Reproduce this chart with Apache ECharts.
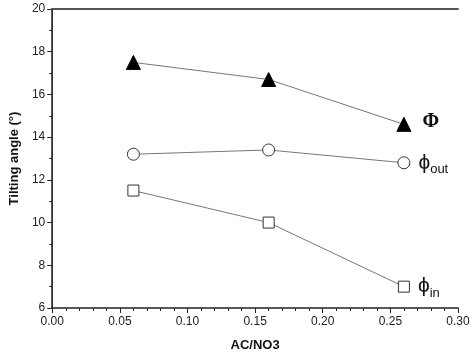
<!DOCTYPE html>
<html><head><meta charset="utf-8">
<script src="https://cdn.jsdelivr.net/npm/echarts@6/dist/echarts.min.js"></script>
<style>html,body{margin:0;padding:0;background:#fff}#c{width:474px;height:357px}</style>
</head><body><div id="c"></div>
<script>
const xValues = [0.06, 0.16, 0.26];
const phiBig = [17.5, 16.7, 14.6];
const phiOut = [13.2, 13.4, 12.8];
const phiIn = [11.5, 10.0, 7.0];
const xTicks = {min: 0, max: 0.30, interval: 0.05};
const yTicks = {min: 6, max: 20, interval: 2};

function mk(vals, lastLabel) {
  return vals.map((v, i) => {
    const d = {value: [xValues[i], v]};
    if (i === vals.length - 1) d.label = lastLabel;
    return d;
  });
}
const labBase = {show: true, position: 'right', distance: 8, color: '#111'};
const chart = echarts.init(document.getElementById('c'));
chart.setOption({
  animation: false,
  grid: {left: 49, right: 16, top: 9, bottom: 48},
  xAxis: [{
    type: 'value', min: xTicks.min, max: xTicks.max, interval: xTicks.interval,
    name: 'AC/NO3', nameLocation: 'middle', nameGap: 31,
    nameTextStyle: {fontFamily: 'Liberation Sans', fontWeight: 'bold', fontSize: 13, color: '#111'},
    axisLine: {lineStyle: {color: '#222', width: 1.5}},
    axisTick: {inside: false, length: 5, lineStyle: {color: '#222'}},
    minorTick: {show: true, splitNumber: 5, length: 3, lineStyle: {color: '#222'}},
    axisLabel: {formatter: v => v.toFixed(2), fontFamily: 'Liberation Sans', fontSize: 12, color: '#222', margin: 8},
    splitLine: {show: false}
  }, {
    type: 'value', position: 'top', min: xTicks.min, max: xTicks.max,
    axisLine: {show: true, lineStyle: {color: '#555', width: 2}},
    axisTick: {show: false}, axisLabel: {show: false}, splitLine: {show: false}
  }],
  yAxis: [{
    type: 'value', min: yTicks.min, max: yTicks.max, interval: yTicks.interval,
    name: 'Tilting angle (°)', nameLocation: 'middle', nameGap: 27,
    nameTextStyle: {fontFamily: 'Liberation Sans', fontWeight: 'bold', fontSize: 13, color: '#111'},
    axisLine: {lineStyle: {color: '#222', width: 1.5}},
    axisTick: {length: 5, lineStyle: {color: '#222'}},
    minorTick: {show: true, splitNumber: 2, length: 3, lineStyle: {color: '#222'}},
    axisLabel: {fontFamily: 'Liberation Sans', fontSize: 12, color: '#222', margin: 7},
    splitLine: {show: false}
  }, {
    type: 'value', position: 'right', min: yTicks.min, max: yTicks.max,
    axisLine: {show: true, lineStyle: {color: '#333', width: 1}},
    axisTick: {show: false}, axisLabel: {show: false}, splitLine: {show: false}
  }],
  series: [{
    name: 'Φ', type: 'line', data: mk(phiBig, Object.assign({}, labBase, {
      formatter: 'Φ', fontFamily: 'Liberation Serif', fontWeight: 'bold', fontSize: 20, offset: [3, -3]})),
    symbol: 'triangle', symbolSize: 14,
    itemStyle: {color: '#000', borderColor: '#000'},
    lineStyle: {color: '#777', width: 1}
  }, {
    name: 'ϕout', type: 'line', data: mk(phiOut, Object.assign({}, labBase, {
      formatter: '{a|ϕ}{b|out}', offset: [0, 0],
      rich: {a: {fontFamily: 'Liberation Sans', fontSize: 21, color: '#111'},
             b: {fontFamily: 'Liberation Sans', fontSize: 13, color: '#111', padding: [14, 0, 0, 0]}}})),
    symbol: 'circle', symbolSize: 12,
    itemStyle: {color: '#fff', borderColor: '#333', borderWidth: 1},
    lineStyle: {color: '#777', width: 1}
  }, {
    name: 'ϕin', type: 'line', data: mk(phiIn, Object.assign({}, labBase, {
      formatter: '{a|ϕ}{b|in}', offset: [0, 0],
      rich: {a: {fontFamily: 'Liberation Sans', fontSize: 21, color: '#111'},
             b: {fontFamily: 'Liberation Sans', fontSize: 13, color: '#111', padding: [14, 0, 0, 0]}}})),
    symbol: 'rect', symbolSize: 11,
    itemStyle: {color: '#fff', borderColor: '#333', borderWidth: 1},
    lineStyle: {color: '#777', width: 1}
  }]
});
</script></body></html>
